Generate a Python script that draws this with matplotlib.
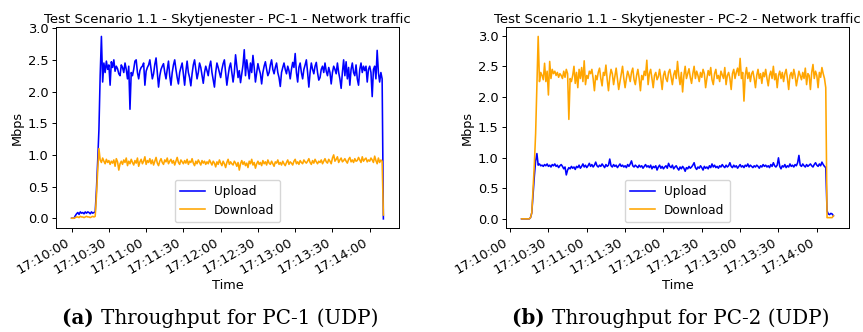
import numpy as np
import matplotlib
matplotlib.use("Agg")
import matplotlib.pyplot as plt
import matplotlib.dates as mdates

# ---------------- data (Mbps, one sample per second) ----------------
pc1_start = "2023-01-01T17:10:00"
pc2_start = "2023-01-01T17:10:09"

pc1_upload = [
    0.0, 0.0, 0.0, 0.04, 0.07, 0.09, 0.06, 0.1, 0.08, 0.09,
    0.07, 0.1, 0.08, 0.1, 0.09, 0.07, 0.1, 0.08, 0.09, 0.1,
    0.45, 0.9, 1.4, 2.25, 2.87, 2.15, 2.45, 2.3, 2.48, 2.35,
    2.42, 2.1, 2.47, 2.38, 2.5, 2.32, 2.4, 2.36, 2.28, 2.25,
    2.42, 2.38, 2.3, 2.45, 2.35, 2.2, 2.4, 1.72, 2.3, 2.25,
    2.35, 2.48, 2.5, 2.3, 2.2, 2.33, 2.38, 2.4, 2.45, 2.1,
    2.32, 2.38, 2.42, 2.5, 2.35, 2.2, 2.28, 2.43, 2.53, 2.3,
    2.07, 2.25, 2.35, 2.4, 2.44, 2.3, 2.2, 2.35, 2.48, 2.25,
    2.1, 2.3, 2.42, 2.5, 2.35, 2.22, 2.12, 2.3, 2.38, 2.45,
    2.28, 2.1, 2.32, 2.48, 2.3, 2.22, 2.09, 2.28, 2.42, 2.5,
    2.35, 2.2, 2.3, 2.45, 2.38, 2.25, 2.13, 2.3, 2.4, 2.33,
    2.25, 2.4, 2.48, 2.3, 2.18, 2.07, 2.3, 2.45, 2.38, 2.3,
    2.22, 2.35, 2.44, 2.5, 2.3, 2.1, 2.25, 2.38, 2.45, 2.3,
    2.15, 2.3, 2.58, 2.4, 2.22, 2.33, 2.14, 2.28, 2.42, 2.66,
    2.25, 2.5, 2.35, 2.2, 2.45, 2.3, 2.57, 2.38, 2.15, 2.3,
    2.44, 2.35, 2.28, 2.12, 2.3, 2.4, 2.47, 2.35, 2.25, 2.3,
    2.42, 2.5, 2.35, 2.28, 2.38, 2.45, 2.3, 2.22, 2.08, 2.3,
    2.38, 2.45, 2.35, 2.28, 2.4, 2.33, 2.2, 2.35, 2.46, 2.38,
    2.6, 2.3, 2.15, 2.38, 2.45, 2.3, 2.2, 2.35, 2.42, 2.5,
    2.3, 2.07, 2.3, 2.45, 2.35, 2.28, 2.4, 2.46, 2.3, 2.18,
    2.22, 2.35, 2.4, 2.3, 2.45, 2.32, 2.25, 2.38, 2.3, 2.12,
    2.3, 2.4, 2.35, 2.28, 2.45, 2.3, 2.2, 2.05, 2.3, 2.5,
    2.25, 2.47, 2.2, 2.38, 2.1, 2.35, 2.45, 2.3, 2.25, 2.42,
    2.2, 2.1, 2.35, 2.45, 2.3, 2.4, 2.33, 2.4, 2.15, 2.35,
    2.4, 2.3, 1.92, 2.35, 2.4, 2.2, 2.65, 2.3, 2.15, 2.3,
    2.2, -0.01,
]

pc1_download = [
    0.0, 0.0, 0.0, 0.01, 0.02, 0.02, 0.01, 0.03, 0.02, 0.02,
    0.01, 0.02, 0.03, 0.02, 0.02, 0.01, 0.02, 0.03, 0.02, 0.03,
    0.35, 0.75, 1.1, 0.92, 0.88, 0.95, 0.9, 0.86, 0.93, 0.88,
    0.91, 0.85, 0.9, 0.87, 0.92, 0.82, 0.94, 0.89, 0.76, 0.86,
    0.9, 0.85, 0.92, 0.88, 0.95, 0.83, 0.9, 0.86, 0.93, 0.88,
    0.84, 0.91, 0.87, 0.95, 0.82, 0.89, 0.93, 0.86, 0.9, 0.97,
    0.85, 0.91, 0.88, 0.94, 0.86, 0.92, 0.84, 0.9, 0.96, 0.87,
    0.83, 0.9, 0.94, 0.88, 0.85, 0.92, 0.89, 0.95, 0.86, 0.9,
    0.93, 0.87, 0.91, 0.84, 0.9, 0.96, 0.88, 0.85, 0.92, 0.89,
    0.86, 0.91, 0.87, 0.93, 0.85, 0.9, 0.88, 0.94, 0.87, 0.83,
    0.9, 0.86, 0.92, 0.88, 0.84, 0.91, 0.87, 0.9, 0.85, 0.89,
    0.86, 0.92, 0.88, 0.84, 0.9, 0.87, 0.81, 0.89, 0.85, 0.92,
    0.87, 0.83, 0.9, 0.86, 0.8, 0.88, 0.93, 0.85, 0.89, 0.86,
    0.84, 0.9, 0.87, 0.82, 0.88, 0.76, 0.86, 0.91, 0.85, 0.89,
    0.83, 0.87, 0.8, 0.9, 0.86, 0.93, 0.84, 0.88, 0.79, 0.86,
    0.9, 0.85, 0.88, 0.83, 0.91, 0.86, 0.89, 0.84, 0.92, 0.87,
    0.85, 0.9, 0.86, 0.82, 0.89, 0.87, 0.92, 0.85, 0.88, 0.84,
    0.9, 0.86, 0.83, 0.88, 0.92, 0.85, 0.89, 0.87, 0.84, 0.9,
    0.93, 0.86, 0.89, 0.85, 0.91, 0.88, 0.86, 0.92, 0.89, 0.87,
    0.9, 0.94, 0.88, 0.85, 0.91, 0.87, 0.93, 0.89, 0.86, 0.9,
    0.88, 0.92, 0.86, 0.9, 0.94, 0.89, 0.87, 0.93, 0.9, 0.86,
    0.95, 1.0, 0.9, 0.93, 0.97, 0.88, 0.92, 0.95, 0.89, 0.91,
    0.94, 0.9, 0.87, 0.93, 0.96, 0.89, 0.92, 0.88, 0.94, 0.9,
    0.91, 0.96, 0.92, 0.88, 0.97, 0.9, 0.93, 0.95, 0.89, 0.92,
    0.9, 0.95, 0.92, 0.88, 0.98, 0.91, 0.86, 0.95, 0.88, 0.92,
    0.9, 0.05,
]

pc2_upload = [
    0.0, 0.0, 0.0, 0.0, 0.0, 0.0, 0.0,
    0.02, 0.1, 0.4, 0.7,
    0.95, 1.07, 0.88, 0.9, 0.87, 0.88, 0.86, 0.89, 0.87, 0.9,
    0.86, 0.88, 0.85, 0.89, 0.87, 0.9, 0.86, 0.88, 0.84, 0.87,
    0.89, 0.86, 0.82, 0.85, 0.72, 0.8, 0.84, 0.82, 0.86, 0.83,
    0.85, 0.81, 0.86, 0.84, 0.88, 0.83, 0.86, 0.9, 0.85, 0.88,
    0.84, 0.87, 0.91, 0.86, 0.89, 0.85, 0.88, 0.93, 0.87, 0.85,
    0.88, 0.86, 0.9, 0.87, 0.84, 0.89, 0.86, 0.88, 0.98, 0.87,
    0.85, 0.89, 0.86, 0.88, 0.84, 0.87, 0.9, 0.86, 0.88, 0.85,
    0.87, 0.84, 0.89, 0.86, 0.9, 0.95, 0.87, 0.85, 0.88, 0.86,
    0.84, 0.88, 0.85, 0.87, 0.83, 0.86, 0.89, 0.85, 0.87, 0.84,
    0.88, 0.82, 0.86, 0.84, 0.87, 0.8, 0.85, 0.88, 0.83, 0.86,
    0.82, 0.85, 0.87, 0.83, 0.91, 0.86, 0.84, 0.88, 0.82, 0.85,
    0.87, 0.83, 0.8, 0.85, 0.82, 0.86, 0.83, 0.78, 0.84, 0.82,
    0.86, 0.83, 0.85, 0.88, 0.92, 0.84, 0.81, 0.85, 0.83, 0.87,
    0.84, 0.8, 0.86, 0.83, 0.85, 0.82, 0.87, 0.84, 0.9, 0.85,
    0.88, 0.84, 0.86, 0.83, 0.87, 0.85, 0.89, 0.86, 0.84, 0.88,
    0.85, 0.87, 0.92, 0.86, 0.84, 0.88, 0.85, 0.87, 0.83, 0.86,
    0.89, 0.85, 0.87, 0.84, 0.88, 0.86, 0.9, 0.85, 0.88, 0.86,
    0.84, 0.87, 0.85, 0.88, 0.86, 0.83, 0.87, 0.85, 0.89, 0.86,
    0.88, 0.85, 0.87, 0.84, 0.89, 0.86, 0.92, 0.87, 0.85, 0.88,
    1.0, 0.86, 0.82, 0.87, 0.85, 0.89, 0.84, 0.87, 0.85, 0.9,
    0.86, 0.88, 0.85, 0.89, 0.87, 0.92, 1.04, 0.88, 0.86, 0.9,
    0.87, 0.85, 0.89, 0.86, 0.88, 0.9, 0.87, 0.85, 0.89, 0.92,
    0.88, 0.86, 0.9, 0.87, 0.93, 0.89, 0.86, 0.84, 0.13, 0.08,
    0.07, 0.09, 0.08, 0.05,
]

pc2_download = [
    0.0, 0.0, 0.0, 0.0, 0.0, 0.0, 0.0,
    0.02, 0.1, 0.5, 0.9,
    1.4, 2.2, 2.99, 2.25, 2.4, 2.35, 2.28, 2.55, 2.25, 2.42,
    2.03, 2.58, 2.3, 2.45, 2.38, 2.42, 2.35, 2.4, 2.32, 2.38,
    2.35, 2.3, 2.42, 2.32, 2.45, 2.38, 1.63, 2.3, 2.25, 2.35,
    2.5, 2.22, 2.4, 2.15, 2.45, 2.3, 2.48, 2.25, 2.59, 2.2,
    2.35, 2.3, 2.42, 2.38, 2.45, 2.3, 2.1, 2.35, 2.28, 2.4,
    2.47, 2.3, 2.18, 2.4, 2.35, 2.52, 2.28, 2.1, 2.32, 2.45,
    2.38, 2.2, 2.33, 2.47, 2.3, 2.12, 2.25, 2.38, 2.5, 2.3,
    2.15, 2.3, 2.42, 2.35, 2.25, 2.4, 2.47, 2.28, 2.2, 2.35,
    2.45, 2.3, 2.1, 2.35, 2.28, 2.42, 2.35, 2.6, 2.2, 2.38,
    2.45, 2.3, 2.15, 2.35, 2.4, 2.28, 2.33, 2.45, 2.3, 2.12,
    2.35, 2.42, 2.3, 2.25, 2.4, 2.45, 2.32, 2.2, 2.36, 2.43,
    2.3, 2.58, 2.35, 2.2, 2.4, 2.08, 2.35, 2.5, 2.3, 2.38,
    2.46, 2.32, 2.22, 2.38, 2.5, 2.3, 2.42, 2.35, 2.25, 2.4,
    2.32, 2.45, 2.38, 2.15, 2.3, 2.43, 2.35, 2.48, 2.28, 2.2,
    2.38, 2.45, 2.3, 2.35, 2.25, 2.42, 2.36, 2.3, 2.48, 2.2,
    2.35, 2.4, 2.3, 2.12, 2.38, 2.45, 2.3, 2.4, 2.47, 2.35,
    2.63, 2.3, 2.4, 1.93, 2.35, 2.48, 2.3, 2.4, 2.25, 2.38,
    2.42, 2.3, 2.15, 2.35, 2.45, 2.3, 2.38, 2.22, 2.4, 2.33,
    2.45, 2.3, 2.18, 2.35, 2.42, 2.3, 2.5, 2.28, 2.38, 2.15,
    2.35, 2.42, 2.3, 2.4, 2.25, 2.38, 2.45, 2.3, 2.12, 2.35,
    2.4, 2.3, 2.45, 2.35, 2.18, 2.3, 2.42, 2.35, 2.28, 2.4,
    2.3, 2.47, 2.2, 2.38, 2.35, 2.12, 2.4, 2.53, 2.3, 2.42,
    2.35, 2.15, 2.4, 2.32, 2.48, 2.38, 2.3, 2.15, 0.02, 0.02,
    0.02, 0.02, 0.02, 0.05,
]

titles = ["Test Scenario 1.1 - Skytjenester - PC-1 - Network traffic",
          "Test Scenario 1.1 - Skytjenester - PC-2 - Network traffic"]
captions = [("(a)", "Throughput for PC-1 (UDP)"),
            ("(b)", "Throughput for PC-2 (UDP)")]
series_labels = ["Upload", "Download"]
series_colors = ["blue", "orange"]


def times(start, n):
    return np.datetime64(start) + np.arange(n) * np.timedelta64(1, "s")


panels = [
    (times(pc1_start, len(pc1_upload)), pc1_upload, pc1_download),
    (times(pc2_start, len(pc2_upload)), pc2_upload, pc2_download),
]

fig = plt.figure(figsize=(8.63, 3.32), dpi=100)
axes_pos = [[0.0649, 0.3133, 0.3974, 0.6045],
            [0.5863, 0.3133, 0.3975, 0.6045]]
caption_x = [220.5 / 863, 670.5 / 863]

for i, (t, up, down) in enumerate(panels):
    ax = fig.add_axes(axes_pos[i])
    ax.plot(t, up, color=series_colors[0], lw=1.15, label=series_labels[0])
    ax.plot(t, down, color=series_colors[1], lw=1.15, label=series_labels[1])
    ax.xaxis.set_major_locator(mdates.SecondLocator(bysecond=[0, 30]))
    ax.xaxis.set_major_formatter(mdates.DateFormatter("%H:%M:%S"))
    ax.set_yticks([0.0, 0.5, 1.0, 1.5, 2.0, 2.5, 3.0])
    ax.tick_params(labelsize=9.4, length=3, width=0.7, pad=2.5)
    for lbl in ax.get_xticklabels():
        lbl.set_rotation(30)
        lbl.set_ha("right")
    ax.set_title(titles[i], fontsize=9.5, pad=3)
    ax.set_ylabel("Mbps", fontsize=9.3, labelpad=3)
    ax.set_xlabel("Time", fontsize=9.3, labelpad=2)
    for s in ax.spines.values():
        s.set_linewidth(0.7)
    ax.legend(loc="lower center", fontsize=8.7, handlelength=2.0,
              borderpad=0.45, labelspacing=0.45)

# captions: bold label + regular text, centred together
fig.canvas.draw()
r = fig.canvas.get_renderer()
for i, (lab, txt) in enumerate(captions):
    tb = fig.text(0, 0, lab + " ", fontsize=14.3, family="DejaVu Serif",
                  weight="bold")
    tr = fig.text(0, 0, txt, fontsize=14.3, family="DejaVu Serif")
    wb = tb.get_window_extent(r).width
    wr = tr.get_window_extent(r).width
    total = wb + wr
    x0 = caption_x[i] * 863 - total / 2
    y = 8 / 332
    tb.set_position((x0 / 863, y))
    tr.set_position(((x0 + wb) / 863, y))

fig.savefig("out.png", dpi=100)
